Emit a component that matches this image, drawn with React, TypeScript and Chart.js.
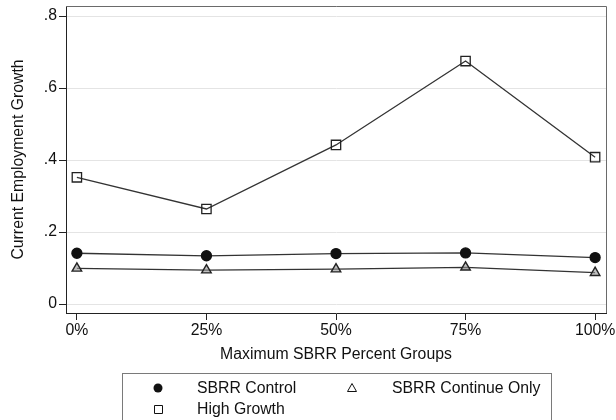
import React, { useEffect, useRef } from "react";
import { Chart, registerables } from "chart.js";

Chart.register(...registerables);

const groups = [0, 25, 50, 75, 100];
const xTickLabels = ["0%", "25%", "50%", "75%", "100%"];
const yTicks = [0, 0.2, 0.4, 0.6, 0.8];
const yTickLabels = ["0", ".2", ".4", ".6", ".8"];

const sbrrControl = [0.141, 0.134, 0.14, 0.142, 0.129];
const sbrrContinueOnly = [0.099, 0.094, 0.097, 0.102, 0.087];
const highGrowth = [0.352, 0.264, 0.442, 0.675, 0.408];

const FONT = '"Liberation Sans", Arial, Helvetica, sans-serif';
const FS = 15.8;

const framePlugin = {
  id: "frame",
  afterDatasetsDraw(chart: any) {
    const { ctx, chartArea } = chart;
    ctx.save();
    ctx.strokeStyle = "#6a6a6a";
    ctx.lineWidth = 1;
    ctx.beginPath();
    ctx.moveTo(chartArea.left, chartArea.top + 0.5);
    ctx.lineTo(chartArea.right + 0.5, chartArea.top + 0.5);
    ctx.lineTo(chartArea.right + 0.5, chartArea.bottom);
    ctx.stroke();
    ctx.restore();
  },
};

const legendPlugin = {
  id: "boxLegend",
  afterDraw(chart: any) {
    const { ctx } = chart;
    const ds = chart.data.datasets;
    ctx.save();
    ctx.strokeStyle = "#7a7a7a";
    ctx.lineWidth = 1;
    ctx.strokeRect(122.5, 373.5, 429, 60);
    const slots = [
      { mx: 158, tx: 197, y: 388 },
      { mx: 352, tx: 392, y: 388 },
      { mx: 158, tx: 197, y: 409 },
    ];
    ds.forEach((d: any, i: number) => {
      const s = slots[i];
      ctx.fillStyle = d.legendFill;
      ctx.strokeStyle = "#111";
      ctx.lineWidth = 1;
      ctx.beginPath();
      if (d.pointStyle === "circle") {
        ctx.arc(s.mx, s.y, 4.5, 0, Math.PI * 2);
        ctx.fill();
      } else if (d.pointStyle === "triangle") {
        ctx.moveTo(s.mx, s.y - 4.5);
        ctx.lineTo(s.mx + 4.5, s.y + 3.5);
        ctx.lineTo(s.mx - 4.5, s.y + 3.5);
        ctx.closePath();
        ctx.stroke();
      } else {
        ctx.rect(s.mx - 3.5, s.y - 3.5, 8, 8);
        ctx.stroke();
      }
      ctx.fillStyle = "#111";
      ctx.font = `${FS}px ${FONT}`;
      ctx.textBaseline = "middle";
      ctx.textAlign = "left";
      ctx.fillText(d.label, s.tx, s.y + 1);
    });
    ctx.restore();
  },
};

export default function App() {
  const ref = useRef<HTMLCanvasElement>(null);
  useEffect(() => {
    if (!ref.current) return;
    const mk = (vals: number[]) => groups.map((g, i) => ({ x: g, y: vals[i] }));
    const chart = new Chart(ref.current, {
      type: "line",
      data: {
        datasets: [
          {
            label: "SBRR Control",
            data: mk(sbrrControl),
            borderColor: "#333",
            borderWidth: 1.3,
            pointStyle: "circle",
            pointRadius: 5,
            pointBackgroundColor: "#111",
            pointBorderColor: "#111",
            legendFill: "#111",
          } as any,
          {
            label: "SBRR Continue Only",
            data: mk(sbrrContinueOnly),
            borderColor: "#333",
            borderWidth: 1.3,
            pointStyle: "triangle",
            pointRadius: 5.5,
            pointBackgroundColor: "rgba(150,150,150,0.6)",
            pointBorderColor: "#222",
            pointBorderWidth: 1.4,
            legendFill: "#fff",
          } as any,
          {
            label: "High Growth",
            data: mk(highGrowth),
            borderColor: "#333",
            borderWidth: 1.3,
            pointStyle: "rect",
            pointRadius: 6.6,
            pointBackgroundColor: "rgba(255,255,255,0)",
            pointBorderColor: "#222",
            pointBorderWidth: 1.3,
            legendFill: "#fff",
          } as any,
        ],
      },
      options: {
        animation: false,
        responsive: false,
        devicePixelRatio: 1,
        layout: { autoPadding: false, padding: { left: 0, top: 6, right: 10, bottom: 0 } },
        plugins: { legend: { display: false }, tooltip: { enabled: false } },
        scales: {
          x: {
            type: "linear",
            min: -2.1,
            max: 102.1,
            afterFit: (s: any) => {
              s.height = 107;
              s.paddingLeft = 0;
              s.paddingRight = 0;
              s.paddingTop = 0;
              s.paddingBottom = 0;
            },
            afterBuildTicks: (s: any) => {
              s.ticks = groups.map((v) => ({ value: v }));
            },
            ticks: {
              callback: (v: any) => {
                const i = groups.indexOf(Number(v));
                return i >= 0 ? xTickLabels[i] : "";
              },
              color: "#111",
              font: { family: FONT, size: FS },
              padding: 1,
              maxRotation: 0,
            },
            grid: {
              drawOnChartArea: false,
              drawTicks: true,
              tickLength: 7,
              tickColor: "#222",
            },
            border: { display: true, color: "#222", width: 1 },
            title: {
              display: true,
              text: "Maximum SBRR Percent Groups",
              color: "#111",
              font: { family: FONT, size: FS },
              padding: { top: 0, bottom: 56 },
            },
          },
          y: {
            type: "linear",
            min: -0.025,
            max: 0.828,
            afterFit: (s: any) => {
              s.width = 66;
              s.paddingLeft = 0;
              s.paddingRight = 0;
              s.paddingTop = 0;
              s.paddingBottom = 0;
            },
            afterBuildTicks: (s: any) => {
              s.ticks = yTicks.map((v) => ({ value: v }));
            },
            ticks: {
              callback: (v: any) => {
                const i = yTicks.findIndex((t) => Math.abs(t - Number(v)) < 1e-6);
                return i >= 0 ? yTickLabels[i] : "";
              },
              color: "#111",
              font: { family: FONT, size: FS },
              padding: 2,
            },
            grid: {
              color: "#e4e4e4",
              lineWidth: 1,
              drawTicks: true,
              tickLength: 7,
              tickColor: "#222",
            },
            border: { display: true, color: "#222", width: 1 },
            title: {
              display: true,
              text: "Current Employment Growth",
              color: "#111",
              font: { family: FONT, size: FS },
              padding: { top: 9, bottom: 0 },
            },
          },
        },
      },
      plugins: [framePlugin, legendPlugin],
    });
    return () => chart.destroy();
  }, []);
  return (
    <div style={{ position: "absolute", left: 0, top: 0, width: 616, height: 420, background: "#fff" }}>
      <canvas ref={ref} width={616} height={420} style={{ display: "block" }} />
    </div>
  );
}
